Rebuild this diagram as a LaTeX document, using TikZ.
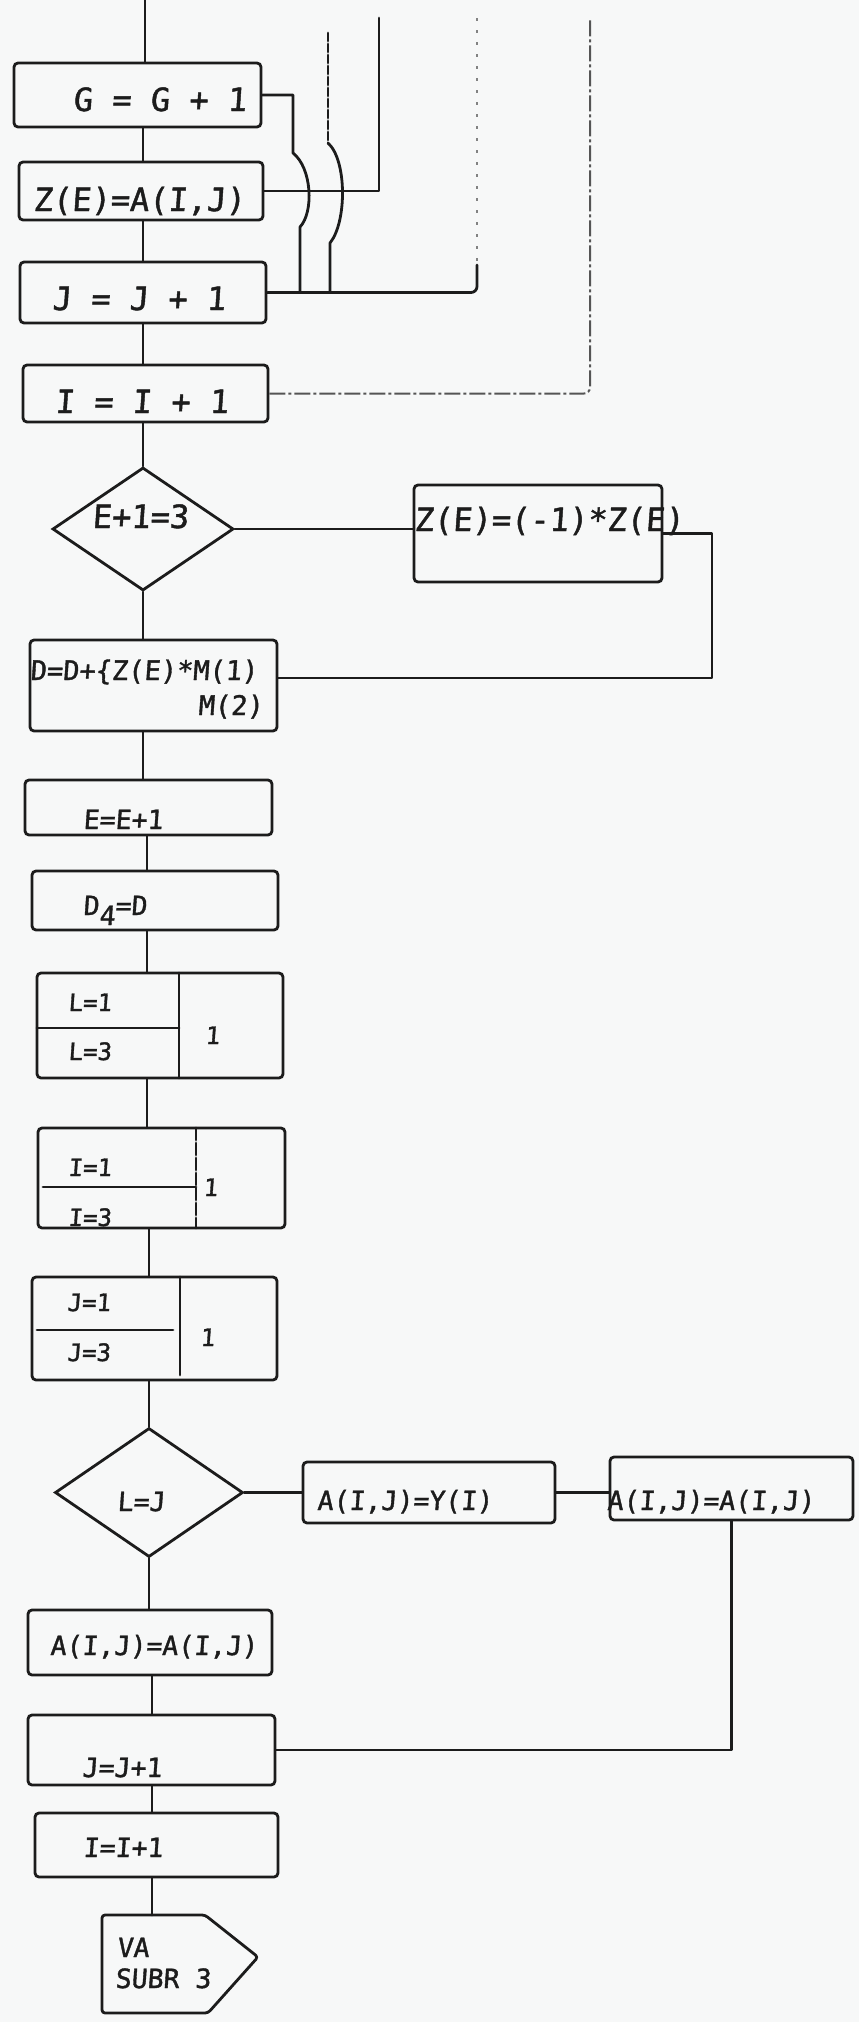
\documentclass[tikz,border=0pt]{standalone}
\usepackage{fontspec}
\newfontfamily\letters{DejaVu Sans Mono}[FakeBold=1.4,FakeSlant=0.07]
\usetikzlibrary{shapes.geometric}
\definecolor{paper}{RGB}{247,248,248}
\definecolor{ink}{RGB}{28,28,28}
\begin{document}
\begin{tikzpicture}[x=1pt,y=-1pt,
  line/.style={draw=ink, line width=2.8pt, line cap=round, line join=round},
  faint/.style={draw=ink!75, line width=2pt, dash pattern=on 16pt off 3pt on 3pt off 3pt},
  dotty/.style={draw=ink!55, line width=1.8pt, dash pattern=on 3pt off 9pt},
  box/.style={rectangle, draw=ink, line width=2.8pt, rounded corners=4pt, inner sep=0pt},
  cond/.style={diamond, draw=ink, line width=2.8pt, inner sep=0pt},
  big/.style={inner sep=0pt, anchor=base west, text=ink, font=\letters\fontsize{32}{36}\selectfont},
  mid/.style={inner sep=0pt, anchor=base west, text=ink, font=\letters\fontsize{27}{31}\selectfont},
  small/.style={inner sep=0pt, anchor=base west, text=ink, font=\letters\fontsize{26.5}{30}\selectfont},
  tiny/.style={inner sep=0pt, anchor=base west, text=ink, font=\letters\fontsize{24}{28}\selectfont},
]
% sheet
\fill[paper] (0,0) rectangle (859,2022);
\useasboundingbox (0,0) rectangle (859,2022);

% ---------- boxes of the main column ----------
\node[box, minimum width=247pt, minimum height=64pt]  (G)  at (137.5,95)   {};
\node[box, minimum width=244pt, minimum height=58pt]  (Z)  at (141,191)    {};
\node[box, minimum width=246pt, minimum height=61pt]  (J)  at (143,292.5)  {};
\node[box, minimum width=245pt, minimum height=57pt]  (I)  at (145.5,393.5){};
\node[cond, minimum width=181pt, minimum height=123pt] (D1) at (143,529)   {};
\node[box, minimum width=248pt, minimum height=97pt]  (Z2) at (538,533.5)  {};
\node[box, minimum width=247pt, minimum height=91pt]  (D)  at (153.5,685.5){};
\node[box, minimum width=247pt, minimum height=55pt]  (E)  at (148.5,807.5){};
\node[box, minimum width=246pt, minimum height=59pt]  (D4) at (155,900.5)  {};
\node[box, minimum width=246pt, minimum height=105pt] (L)  at (160,1025.5) {};
\node[box, minimum width=247pt, minimum height=100pt] (Ib) at (161.5,1178) {};
\node[box, minimum width=245pt, minimum height=103pt] (Jb) at (154.5,1328.5){};
\node[cond, minimum width=188pt, minimum height=129pt] (D2) at (149,1492.5) {};
\node[box, minimum width=252pt, minimum height=61pt]  (A1) at (429,1492.5) {};
\node[box, minimum width=243pt, minimum height=63pt]  (A2) at (731.5,1488.5){};
\node[box, minimum width=244pt, minimum height=65pt]  (A0) at (150,1642.5) {};
\node[box, minimum width=247pt, minimum height=70pt]  (Jc) at (151.5,1750) {};
\node[box, minimum width=243pt, minimum height=64pt]  (Ic) at (156.5,1845) {};

% off-page connector
\coordinate (VA) at (152,1915);
\draw[line, rounded corners=3pt] (102,1915) -- (205,1915) -- (258,1957) -- (208,2013)
  -- (102,2013) -- cycle;

% dividers of the loop boxes
\draw[line] (179,973) -- (179,1078);
\draw[line] (37,1028) -- (179,1028);
\draw[line, dash pattern=on 12pt off 3pt] (196,1128) -- (196,1228);
\draw[line] (43,1187) -- (196,1187);
\draw[line] (180,1277) -- (180,1375);
\draw[line] (37,1330) -- (173,1330);

% ---------- texts ----------
\node[big]  (tG)  at (73,111)   {G = G + 1};
\node[big]  (tZ)  at (33,211)   {Z(E)=A(I,J)};
\node[big]  (tJ)  at (52,310)   {J = J + 1};
\node[big]  (tI)  at (55,413)   {I = I + 1};
\node[big]  (tD1) at (92,528)   {E+1=3};
\node[big]  (tZ2) at (414,531)  {Z(E)=(-1)*Z(E)};
\node[mid]  (tD)  at (30,680)   {D=D+\{Z(E)*M(1)};
\node[mid]  (tM)  at (198,715)  {M(2)};
\node[small] (tE)  at (83,829)  {E=E+1};
\node[small] (tD4) at (83,915)  {D\raisebox{-10pt}{4}=D};
\node[tiny] (tL1) at (68,1011)  {L=1};
\node[tiny] (tL3) at (68,1060)  {L=3};
\node[tiny] (tL)  at (205,1044) {1};
\node[tiny] (tI1) at (68,1176)  {I=1};
\node[tiny] (tI3) at (68,1226)  {I=3};
\node[tiny] (tIs) at (203,1196) {1};
\node[tiny] (tJ1) at (67,1311)  {J=1};
\node[tiny] (tJ3) at (67,1361)  {J=3};
\node[tiny] (tJs) at (200,1346) {1};
\node[small] (tD2) at (117,1511) {L=J};
\node[small] (tA1) at (317,1510) {A(I,J)=Y(I)};
\node[small] (tA2) at (607,1510) {A(I,J)=A(I,J)};
\node[small] (tA0) at (50,1655)  {A(I,J)=A(I,J)};
\node[small] (tJc) at (82,1777)  {J=J+1};
\node[small] (tIc) at (83,1857)  {I=I+1};
\node[small] (tV1) at (117,1957) {VA};
\node[small] (tV2) at (115,1988) {SUBR 3};

% ---------- connectors ----------
\coordinate (entry) at (145,0);
\coordinate (s2) at (147,0);
\draw[line] (entry) -- (entry |- G.north);
\draw[line] (D1.north |- G.south) -- (D1.north |- Z.north);
\draw[line] (D1.north |- Z.south) -- (D1.north |- J.north);
\draw[line] (D1.north |- J.south) -- (D1.north |- I.north);
\draw[line] (D1.north |- I.south) -- (D1.north);
\draw[line] (D1.south) -- (D1.south |- D.north);
\draw[line] (D1.south |- D.south) -- (D1.south |- E.north);
\draw[line] (s2 |- E.south) -- (s2 |- D4.north);
\draw[line] (s2 |- D4.south) -- (s2 |- L.north);
\draw[line] (s2 |- L.south) -- (s2 |- Ib.north);
\draw[line] (D2.north |- Ib.south) -- (D2.north |- Jb.north);
\draw[line] (D2.north |- Jb.south) -- (D2.north);
\draw[line] (D2.south) -- (D2.south |- A0.north);
\draw[line] (VA |- A0.south) -- (VA |- Jc.north);
\draw[line] (VA |- Jc.south) -- (VA |- Ic.north);
\draw[line] (VA |- Ic.south) -- (VA);

% loops on the right of the top boxes
\coordinate (a1) at (293,153);
\coordinate (a2) at (300,227);
\draw[line] (G.east) -| (a1) .. controls (312,168) and (314,212) .. (a2) -- (a2 |- J.east);
\coordinate (b0) at (328,33);
\coordinate (b1) at (328,143);
\coordinate (b2) at (330,243);
\draw[line, dash pattern=on 8pt off 3pt] (b0) -- (b1);
\draw[line] (b1) .. controls (347,160) and (347,222) .. (b2) -- (b2 |- J.east);
\coordinate (c0) at (379,18);
\draw[line] (Z.east) -| (c0);
\coordinate (d0) at (477,18);
\coordinate (d1) at (477,265);
\draw[dotty] (d0) -- (d1);
\draw[line, rounded corners=6pt] (J.east) -| (d1);
\coordinate (e0) at (590,20);
\draw[faint, rounded corners=6pt] (I.east) -| (e0);

% decision E+1=3 and its side branch
\draw[line] (D1.east) -- (D1.east -| Z2.west);
\coordinate (loop) at (712,678);
\draw[line] (Z2.east) -| (loop) -- (loop -| D.east);

% decision L=J and its side branch
\draw[line] (D2.east) -- (D2.east -| A1.west);
\draw[line] (A1.east) -- (A1.east -| A2.west);
\draw[line] (A2.south) |- (Jc.east);
\end{tikzpicture}
\end{document}
